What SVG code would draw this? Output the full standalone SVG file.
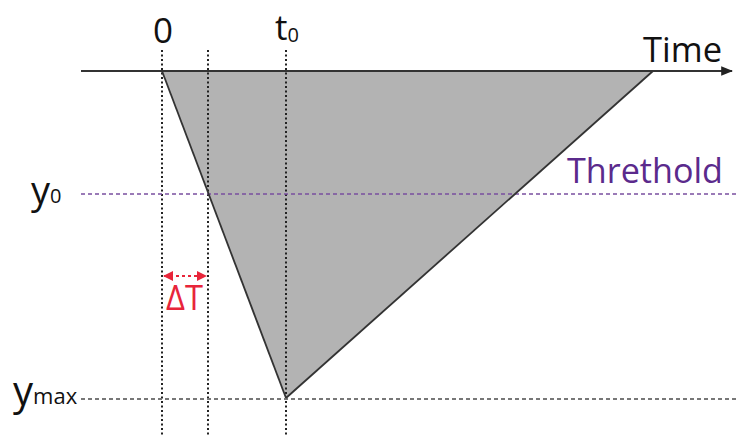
<svg xmlns="http://www.w3.org/2000/svg" width="739" height="436" viewBox="0 0 739 436">
<defs>
<style>
.lbl{font-family:"Open Sans","Liberation Sans",sans-serif;fill:#111}
.vdot{stroke:#222;stroke-width:2;stroke-dasharray:2 2.5;fill:none}
</style>
<marker id="arr" viewBox="0 0 10 10" refX="9" refY="5" markerWidth="6" markerHeight="6" orient="auto"><path d="M0,1 L10,5 L0,9 z" fill="#222"/></marker>
<marker id="ra" viewBox="0 0 10 10" refX="9" refY="5" markerWidth="5" markerHeight="5" orient="auto-start-reverse"><path d="M0,0 L10,5 L0,10 z" fill="#e8253a"/></marker>
</defs>
<rect width="739" height="436" fill="#fff"/>
<g id="area">
<polygon points="162,71 653,71 286,398" fill="#b3b3b3"/>
</g>
<g id="connectors">
<line x1="162" y1="50" x2="162" y2="436" class="vdot"/>
<line x1="208" y1="50" x2="208" y2="436" class="vdot" stroke="#333"/>
<line x1="286" y1="50" x2="286" y2="436" class="vdot"/>
<line x1="81" y1="194" x2="739" y2="194" stroke="#7a4fa0" stroke-width="1.6" stroke-dasharray="4 3"/>
<line x1="81" y1="399" x2="739" y2="399" stroke="#777" stroke-width="2" stroke-dasharray="4 3"/>
<line x1="162" y1="71" x2="286" y2="398" stroke="#333" stroke-width="1.8"/>
<line x1="286" y1="398" x2="653" y2="71" stroke="#333" stroke-width="1.8"/>
<line x1="81" y1="71" x2="732" y2="71" stroke="#333" stroke-width="2" marker-end="url(#arr)"/>
<line x1="164" y1="276" x2="206" y2="276" stroke="#e8253a" stroke-width="2" stroke-dasharray="3 3" marker-start="url(#ra)" marker-end="url(#ra)"/>
</g>
<g id="labels">
<text class="lbl" x="163" y="43" font-size="35" text-anchor="middle">0</text>
<text class="lbl" x="275" y="40" font-size="35">t<tspan font-size="20" dy="2">0</tspan></text>
<text class="lbl" x="643" y="62" font-size="35" textLength="79" lengthAdjust="spacingAndGlyphs">Time</text>
<text class="lbl" x="567" y="183" font-size="35" textLength="156" lengthAdjust="spacingAndGlyphs" style="fill:#5b2a8c">Threthold</text>
<text class="lbl" x="31" y="204" font-size="38">y<tspan font-size="20" dy="-1">0</tspan></text>
<text class="lbl" x="13" y="405" font-size="40">y<tspan font-size="22" dy="-1">max</tspan></text>
<text class="lbl" x="166" y="310" font-size="34" textLength="37" lengthAdjust="spacingAndGlyphs" style="fill:#e8253a">ΔT</text>
</g>
</svg>
